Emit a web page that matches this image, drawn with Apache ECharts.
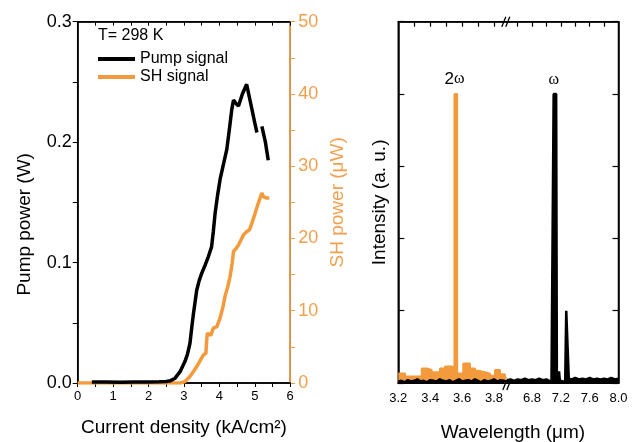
<!DOCTYPE html>
<html><head><meta charset="utf-8">
<script src="https://cdn.jsdelivr.net/npm/echarts@6/dist/echarts.min.js"></script>
<style>html,body{margin:0;padding:0;background:#fff}#c{width:637px;height:442px}</style>
</head><body><div id="c"></div>
<script>
const FONT = '"Liberation Sans", Arial, sans-serif';
const BLACK = '#000000';
const ORANGE = '#F39A3C';
const ORANGE_AXIS = '#F2A04E';

// ---- Left panel: output power vs current density ----
const pumpX = [0.40, 0.8, 1.2, 1.6, 2.0, 2.3, 2.5, 2.61, 2.75, 2.89, 3.03, 3.10, 3.17, 3.22, 3.27, 3.36, 3.43, 3.50, 3.60, 3.69, 3.78, 3.83, 3.88, 3.95, 4.02, 4.11, 4.21, 4.28, 4.35, 4.40, 4.47, 4.54, 4.65, 4.77, 4.90, 5.00, 5.06, 5.13, 5.20, 5.30, 5.38];
const pumpY = [0.0008, 0.0008, 0.0006, 0.0008, 0.0009, 0.0011, 0.0013, 0.0018, 0.004, 0.0094, 0.018, 0.024, 0.033, 0.046, 0.058, 0.077, 0.085, 0.091, 0.098, 0.105, 0.113, 0.126, 0.141, 0.156, 0.169, 0.181, 0.194, 0.210, 0.227, 0.235, 0.232, 0.230, 0.240, 0.248, 0.230, 0.216, 0.208, null, 0.213, 0.200, 0.185];
const shX = [0, 0.5, 1.0, 1.5, 2.0, 2.5, 2.9, 3.03, 3.15, 3.27, 3.40, 3.55, 3.62, 3.64, 3.66, 3.76, 3.83, 3.93, 4.02, 4.10, 4.16, 4.23, 4.30, 4.36, 4.40, 4.47, 4.54, 4.61, 4.68, 4.76, 4.85, 4.93, 5.01, 5.10, 5.20, 5.24, 5.27, 5.34, 5.41];
const shY = [0, 0, 0, 0, 0, 0, 0, 0.2, 0.8, 1.6, 2.6, 3.9, 4.1, 5.8, 6.9, 6.6, 7.6, 7.8, 9.0, 10.5, 12.0, 13.2, 14.7, 16.5, 18.2, 18.6, 19.1, 19.8, 20.5, 20.9, 21.2, 22.3, 23.5, 24.9, 26.3, 25.8, 25.9, 25.6, 25.6];
const pumpTicks = [0, 0.1, 0.2, 0.3];
const shTicks = [0, 10, 20, 30, 40, 50];

// ---- Right panel: emission spectrum (broken wavelength axis) ----
const shSpecX = [3.20, 3.242, 3.347, 3.378, 3.409, 3.461, 3.493, 3.535, 3.552, 3.569, 3.607, 3.649, 3.681, 3.701, 3.743, 3.775, 3.806, 3.837, 3.868, 3.88];
const shSpecY = [0.13, 0.09, 0.20, 0.18, 0.15, 0.20, 0.23, 0.21, 4.00, 0.13, 0.27, 0.20, 0.17, 0.15, 0.13, 0.10, 0.18, 0.12, 0.07, 0.07];
const pumpSpecAX = [3.20,3.22,3.24,3.26,3.28,3.30,3.32,3.34,3.36,3.38,3.40,3.42,3.44,3.46,3.48,3.50,3.52,3.54,3.56,3.58,3.60,3.62,3.64,3.66,3.68,3.70,3.72,3.74,3.76,3.78,3.80,3.82,3.84,3.86,3.88];
const pumpSpecAY = [0.02,0.03,0.01,0.04,0.02,0.03,0.05,0.02,0.03,0.01,0.04,0.03,0.02,0.05,0.03,0.02,0.04,0.01,0.03,0.05,0.02,0.03,0.04,0.02,0.05,0.03,0.01,0.04,0.02,0.03,0.05,0.02,0.04,0.03,0.02];
const pumpSpecBX = [6.45,6.50,6.55,6.60,6.65,6.70,6.75,6.80,6.85,6.90,6.95,7.00,7.04,7.07,7.09,7.10,7.135,7.145,7.16,7.175,7.185,7.22,7.26,7.275,7.30,7.31,7.35,7.40,7.45,7.50,7.55,7.60,7.65,7.70,7.75,7.80,7.85,7.90,7.95,8.00];
const pumpSpecBY = [0.04,0.05,0.03,0.05,0.04,0.06,0.04,0.05,0.04,0.06,0.04,0.05,0.03,0.01,0.00,4.00,4.00,0.02,0.05,0.16,0.04,0.02,0.02,1.00,1.00,0.06,0.05,0.07,0.05,0.06,0.05,0.07,0.05,0.06,0.05,0.06,0.05,0.07,0.05,0.06];
const rangeA = [3.2, 3.88];
const rangeB = [6.45, 8.0];
const ticksA = [3.3, 3.4, 3.5, 3.6, 3.7, 3.8];
const labelsA = [3.2, 3.4, 3.6, 3.8];
const ticksB = [6.6, 6.8, 7.0, 7.2, 7.4, 7.6, 7.8];
const labelsB = [6.8, 7.2, 7.6, 8.0];
const peakNames = ['2ω', 'ω'];

// layout (pixels)
const G0 = {left: 77.7, top: 21.7, width: 212.5, height: 361.3};
const GA = {left: 398.3, top: 21.7, width: 108.5, height: 361.3};
const GB = {left: 506.8, top: 21.7, width: 111.7, height: 361.3};

const zip = (xs, ys) => xs.map((x, i) => [x, ys[i]]);
const chart = echarts.init(document.getElementById('c'), null, {renderer: 'canvas'});

const axLine = (c, w) => ({show: true, onZero: false, lineStyle: {color: c || BLACK, width: w || 1.5}});
const noLabel = () => ({show: false});

const breakX = GA.left + GA.width;
const brk = (x, y) => [
  {type: 'line', shape: {x1: x - 5, y1: y + 5, x2: x - 1, y2: y - 5}, style: {stroke: BLACK, lineWidth: 1.3}, z: 100},
  {type: 'line', shape: {x1: x - 1, y1: y + 5, x2: x + 3, y2: y - 5}, style: {stroke: BLACK, lineWidth: 1.3}, z: 100}
];

const option = {
  animation: false,
  backgroundColor: '#ffffff',
  textStyle: {fontFamily: FONT},
  title: [
    {text: 'T= 298 K', left: 93, top: 23, textStyle: {fontFamily: FONT, fontSize: 16, fontWeight: 'normal', color: BLACK}},
    {text: 'Wavelength (μm)', left: 508, top: 418, textAlign: 'center', textStyle: {fontFamily: FONT, fontSize: 19, fontWeight: 'normal', color: BLACK}}
  ],
  legend: {
    data: ['Pump signal', 'SH signal'],
    orient: 'vertical', left: 93, top: 46,
    icon: 'rect', itemWidth: 37, itemHeight: 4, itemGap: 2,
    textStyle: {fontFamily: FONT, fontSize: 16, color: BLACK}
  },
  grid: [
    Object.assign({show: true, borderColor: BLACK, borderWidth: 1.5, backgroundColor: 'rgba(0,0,0,0)'}, G0),
    Object.assign({}, GA),
    Object.assign({}, GB),
    {left: GA.left, top: GA.top, width: GA.width + GB.width, height: GA.height, show: true, borderColor: BLACK, borderWidth: 1.5, backgroundColor: 'rgba(0,0,0,0)'}
  ],
  xAxis: [
    {gridIndex: 0, type: 'value', min: 0, max: 6, interval: 1, position: 'bottom',
     axisLine: axLine(), splitLine: {show: false},
     axisTick: {show: true, inside: false, length: 4, lineStyle: {color: BLACK, width: 1}},
     minorTick: {show: true, splitNumber: 2, length: 4, lineStyle: {color: BLACK, width: 1}},
     axisLabel: {fontSize: 13, color: BLACK, margin: 7, fontFamily: FONT},
     name: 'Current density (kA/cm²)', nameLocation: 'middle', nameGap: 35,
     nameTextStyle: {fontSize: 19, color: BLACK, fontFamily: FONT}},
    {gridIndex: 0, type: 'value', min: 0, max: 6, interval: 1, position: 'top',
     axisLine: axLine(), splitLine: {show: false},
     axisTick: {show: true, inside: true, length: 4, lineStyle: {color: BLACK, width: 1}},
     minorTick: {show: true, splitNumber: 2, length: 4, lineStyle: {color: BLACK, width: 1}},
     axisLabel: noLabel()},
    {gridIndex: 1, type: 'value', min: rangeA[0], max: rangeA[1], position: 'bottom',
     axisLine: axLine(BLACK, 2), splitLine: {show: false}, axisTick: {show: false},
     axisLabel: {show: true, customValues: labelsA, formatter: v => v.toFixed(1), fontSize: 13, color: BLACK, margin: 9, fontFamily: FONT}},
    {gridIndex: 1, type: 'value', min: rangeA[0], max: rangeA[1], position: 'top',
     axisLine: axLine(), splitLine: {show: false},
     axisTick: {show: true, inside: true, length: 5, customValues: ticksA, lineStyle: {color: BLACK, width: 1.2}},
     axisLabel: noLabel()},
    {gridIndex: 2, type: 'value', min: rangeB[0], max: rangeB[1], position: 'bottom',
     axisLine: axLine(BLACK, 2), splitLine: {show: false}, axisTick: {show: false},
     axisLabel: {show: true, customValues: labelsB, formatter: v => v.toFixed(1), fontSize: 13, color: BLACK, margin: 9, fontFamily: FONT}},
    {gridIndex: 2, type: 'value', min: rangeB[0], max: rangeB[1], position: 'top',
     axisLine: axLine(), splitLine: {show: false},
     axisTick: {show: true, inside: true, length: 5, customValues: ticksB, lineStyle: {color: BLACK, width: 1.2}},
     axisLabel: noLabel()},
    {gridIndex: 3, type: 'value', min: 0, max: 1, show: false}
  ],
  yAxis: [
    {gridIndex: 0, type: 'value', min: pumpTicks[0], max: pumpTicks[pumpTicks.length - 1], interval: 0.1, position: 'left',
     axisLine: axLine(), splitLine: {show: false},
     axisTick: {show: true, inside: false, length: 5, lineStyle: {color: BLACK, width: 1}},
     minorTick: {show: true, splitNumber: 2, length: 5, lineStyle: {color: BLACK, width: 1}},
     axisLabel: {fontSize: 18, color: BLACK, margin: 6, formatter: v => v.toFixed(1), fontFamily: FONT},
     name: 'Pump power (W)', nameLocation: 'middle', nameGap: 43, nameRotate: 90,
     nameTextStyle: {fontSize: 19, color: BLACK, fontFamily: FONT, padding: [0, 44, 0, 0]}},
    {gridIndex: 0, type: 'value', min: shTicks[0], max: shTicks[shTicks.length - 1], interval: 10, position: 'right',
     axisLine: axLine(ORANGE_AXIS, 1.8), splitLine: {show: false},
     axisTick: {show: true, inside: false, length: 5, lineStyle: {color: ORANGE_AXIS, width: 1}},
     minorTick: {show: true, splitNumber: 2, length: 5, lineStyle: {color: ORANGE_AXIS, width: 1}},
     axisLabel: {fontSize: 18, color: ORANGE_AXIS, margin: 8, fontFamily: FONT},
     name: 'SH power (μW)', nameLocation: 'middle', nameGap: 38, nameRotate: 90,
     nameTextStyle: {fontSize: 19, color: ORANGE_AXIS, fontFamily: FONT}},
    {gridIndex: 1, type: 'value', min: 0, max: 5, interval: 1, position: 'left',
     axisLine: axLine(), splitLine: {show: false},
     axisTick: {show: true, inside: true, length: 6, lineStyle: {color: BLACK, width: 1.2}},
     axisLabel: noLabel(),
     name: 'Intensity (a. u.)', nameLocation: 'middle', nameGap: 9, nameRotate: 90,
     nameTextStyle: {fontSize: 19, color: BLACK, fontFamily: FONT}},
    {gridIndex: 2, type: 'value', min: 0, max: 5, interval: 1, position: 'right',
     axisLine: axLine(), splitLine: {show: false},
     axisTick: {show: true, inside: true, length: 6, lineStyle: {color: BLACK, width: 1.2}},
     axisLabel: noLabel()},
    {gridIndex: 3, type: 'value', min: 0, max: 1, show: false}
  ],
  graphic: brk(breakX, GA.top).concat(brk(breakX + 1, GA.top + GA.height + 2)),
  series: [
    {name: 'SH signal', type: 'line', xAxisIndex: 0, yAxisIndex: 1, data: zip(shX, shY),
     showSymbol: false, symbol: 'none', lineStyle: {color: ORANGE, width: 3.5}, itemStyle: {color: ORANGE}, z: 2},
    {name: 'Pump signal', type: 'line', xAxisIndex: 1, yAxisIndex: 0, data: zip(pumpX, pumpY),
     showSymbol: false, symbol: 'none', connectNulls: false, lineStyle: {color: BLACK, width: 3.5}, itemStyle: {color: BLACK}, z: 3},
    {name: 'SH spectrum', type: 'line', xAxisIndex: 2, yAxisIndex: 2, data: zip(shSpecX, shSpecY),
     step: 'end', showSymbol: false, symbol: 'none',
     lineStyle: {color: ORANGE, width: 2}, areaStyle: {color: ORANGE, opacity: 1}, itemStyle: {color: ORANGE}, z: 2,
     markPoint: {symbol: 'circle', symbolSize: 1, itemStyle: {color: 'rgba(0,0,0,0)'},
       data: [{type: 'max'}],
       label: {show: true, position: 'top', distance: 6, formatter: () => '{a|2}{b|ω}',
         rich: {a: {fontFamily: FONT, fontSize: 17, color: BLACK}, b: {fontFamily: '"Liberation Serif", serif', fontSize: 16, color: BLACK}}}}},
    {name: 'Pump spectrum A', type: 'line', xAxisIndex: 3, yAxisIndex: 2, data: zip(pumpSpecAX, pumpSpecAY),
     showSymbol: false, symbol: 'none', lineStyle: {color: BLACK, width: 2.5}, areaStyle: {color: BLACK, opacity: 1}, itemStyle: {color: BLACK}, z: 3},
    {name: 'Pump spectrum B', type: 'line', xAxisIndex: 4, yAxisIndex: 3, data: zip(pumpSpecBX, pumpSpecBY),
     showSymbol: false, symbol: 'none', lineStyle: {color: BLACK, width: 2.5}, areaStyle: {color: BLACK, opacity: 1}, itemStyle: {color: BLACK}, z: 3,
     markPoint: {symbol: 'circle', symbolSize: 1, itemStyle: {color: 'rgba(0,0,0,0)'},
       data: [{type: 'max'}],
       label: {show: true, position: 'top', distance: 6, formatter: () => peakNames[1],
         fontFamily: '"Liberation Serif", serif', fontSize: 16, color: BLACK}}}
  ]
};
chart.setOption(option);
</script></body></html>
